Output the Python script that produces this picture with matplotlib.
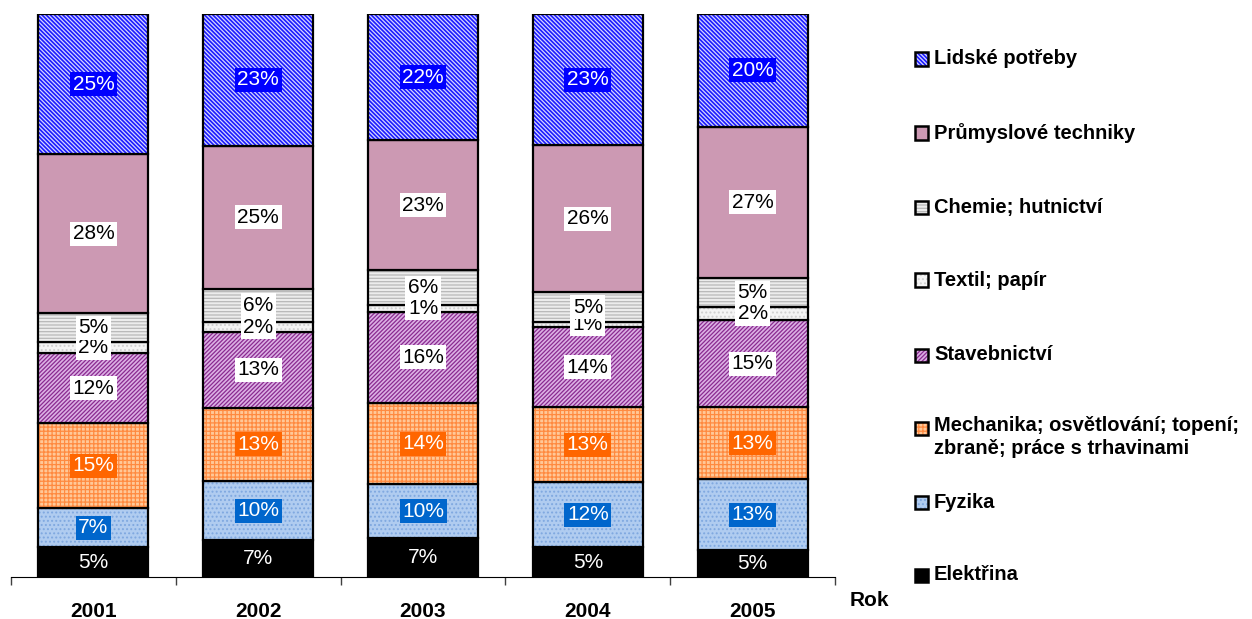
import numpy as np
import matplotlib
matplotlib.use('Agg')
import matplotlib.pyplot as plt
import matplotlib.patches as patches

matplotlib.rc('font', **{'family': 'sans-serif',
                         'sans-serif': ['Liberation Sans', 'DejaVu Sans'], 'size': 15})
plt.rcParams['hatch.linewidth'] = 0.9

years = ['2001', '2002', '2003', '2004', '2005']

# podíly (%), odspodu nahoru
elektrina = [5.3, 6.6, 6.9, 5.3, 4.8]
fyzika = [6.9, 10.4, 9.6, 11.5, 12.6]
mechanika = [15.1, 13.1, 14.4, 13.4, 12.8]
stavebnictvi = [12.4, 13.4, 16.2, 14.2, 15.4]
textil = [2.0, 1.8, 1.2, 0.9, 2.3]
chemie = [5.2, 5.9, 6.2, 5.3, 5.2]
prumysl = [28.2, 25.4, 23.1, 26.1, 26.9]
lidske = [24.9, 23.4, 22.4, 23.3, 20.0]

names = ['Elektřina', 'Fyzika',
         'Mechanika; osvětlování; topení;\nzbraně; práce s trhavinami',
         'Stavebnictví', 'Textil; papír', 'Chemie; hutnictví',
         'Průmyslové techniky', 'Lidské potřeby']
series = [elektrina, fyzika, mechanika, stavebnictvi, textil, chemie, prumysl, lidske]

# (barva výplně, šrafa, barva šrafy, pozadí popisku, barva textu)
styles = [
    ('#000000', None, None, None, 'white'),
    ('#b0ccf0', '....', '#7fa8e0', '#0066cc', 'white'),
    ('#ffc898', '++++', '#ff8a40', '#ff6600', 'white'),
    ('#dcb0e4', '////////', '#8a2a90', 'white', 'black'),
    ('#f4f4f4', '....', '#d0d0d0', 'white', 'black'),
    ('#ececec', '-----', '#b8b8b8', 'white', 'black'),
    ('#cc99b3', None, None, 'white', 'black'),
    ('#1c1cff', '\\' * 8, '#d8d8ff', '#0000ff', 'white'),
]

fig = plt.figure(figsize=(12.52, 6.19), dpi=100)
ax = fig.add_axes([11/1252, 1 - 577/619, 824/1252, 563/619])

x = np.arange(len(years))
w = 0.667
bottom = np.zeros(len(years))
for vals, (fc, hatch, hc, lbg, tc) in zip(series, styles):
    vals = np.array(vals)
    ax.bar(x, vals, w, bottom=bottom, color=fc, edgecolor='none', lw=0)
    if hatch:
        ax.bar(x, vals, w, bottom=bottom, color='none', edgecolor=hc,
               hatch=hatch, lw=0)
    ax.bar(x, vals, w, bottom=bottom, color='none', edgecolor='black', lw=1.6)
    for xi, b, v in zip(x, bottom, vals):
        bb = None
        if lbg is not None:
            bb = dict(boxstyle='square,pad=0.12', fc=lbg, ec='none')
        ax.text(xi, b + v/2, '%.0f%%' % v, ha='center', va='center',
                color=tc, fontsize=15, bbox=bb)
    bottom += vals

ax.set_xlim(-0.5, len(years) - 0.5)
ax.set_ylim(0, 100)
for s in ['left', 'right', 'top']:
    ax.spines[s].set_visible(False)
ax.spines['bottom'].set_color('black')
ax.set_yticks([])
ax.set_xticks(x)
ax.set_xticklabels(years, fontweight='bold', fontsize=15)
ax.tick_params(axis='x', which='major', length=0, pad=18)
ax.set_xticks(np.arange(-0.5, len(years)), minor=True)
ax.tick_params(axis='x', which='minor', length=6, color='#404040', width=1)

fig.text(850/1252, 1 - 601/619, 'Rok', fontweight='bold', fontsize=15,
         ha='left', va='center')

# legenda ručně, pořadí shora dolů
rows = [575, 502, 428, 355, 280, 208, 133, 59]
for name, (fc, hatch, hc, lbg, tc), yc in zip(names, styles, rows):
    sx, sz = 915/1252, 13
    y0 = 1 - (yc + sz/2)/619
    fig.patches.append(patches.Rectangle((sx, y0), sz/1252, sz/619,
                                         transform=fig.transFigure, fc=fc, ec='none'))
    if hatch:
        fig.patches.append(patches.Rectangle((sx, y0), sz/1252, sz/619,
                                             transform=fig.transFigure, fc='none',
                                             ec=hc, hatch=hatch, lw=0))
    fig.patches.append(patches.Rectangle((sx, y0), sz/1252, sz/619,
                                         transform=fig.transFigure, fc='none',
                                         ec='black', lw=1.8))
    if '\n' in name:
        fig.text(934/1252, 1 - (yc - 12)/619, name, fontweight='bold', fontsize=14.5,
                 ha='left', va='top', linespacing=1.28)
    else:
        fig.text(934/1252, 1 - yc/619, name, fontweight='bold', fontsize=14.5,
                 ha='left', va='center')

fig.savefig('out.png', dpi=100)
